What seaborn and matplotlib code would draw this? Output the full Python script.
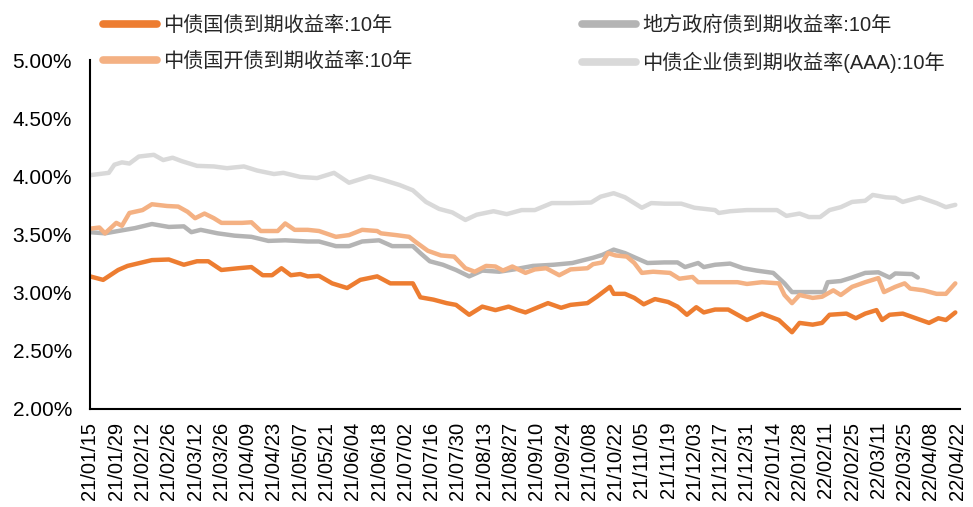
import numpy as np
import pandas as pd
import seaborn as sns
import matplotlib.pyplot as plt
import matplotlib.dates as mdates
from matplotlib.lines import Line2D
from matplotlib.ticker import FuncFormatter

# 起止日期, 数据点用"距起始日的天数"记录
start = '2021-01-15'
end = '2022-04-22'

# 中债国债到期收益率:10年
gov_days = [0, 7, 15, 20, 33, 42, 50, 57, 63, 70, 79, 86, 92, 97, 102, 107, 112, 116, 122, 129,
            137, 144, 153, 160, 172, 176, 183, 190, 195, 202, 209, 216, 223, 228, 232, 244, 251, 256,
            265, 270, 277, 279, 285, 290, 295, 301, 308, 313, 318, 323, 327, 333, 340, 345, 350, 358,
            367, 374, 378, 385, 390, 394, 403, 408, 413, 419, 422, 426, 433, 440, 447, 452, 456, 461]
gov_vals = [3.14, 3.11, 3.195, 3.23, 3.28, 3.285, 3.24, 3.27, 3.27, 3.195, 3.21, 3.22, 3.15, 3.15,
            3.21, 3.15, 3.16, 3.14, 3.145, 3.08, 3.04, 3.11, 3.14, 3.08, 3.08, 2.96, 2.94, 2.91, 2.895,
            2.81, 2.88, 2.85, 2.88, 2.85, 2.83, 2.91, 2.87, 2.895, 2.91, 2.965, 3.05, 2.99, 2.99, 2.955,
            2.90, 2.945, 2.92, 2.88, 2.81, 2.875, 2.83, 2.855, 2.855, 2.81, 2.765, 2.82, 2.765, 2.66,
            2.74, 2.725, 2.74, 2.81, 2.82, 2.78, 2.82, 2.85, 2.765, 2.81, 2.82, 2.78, 2.74, 2.78, 2.765,
            2.83]

# 地方政府债到期收益率:10年
local_days = [0, 8, 15, 24, 33, 42, 50, 54, 59, 68, 77, 86, 95, 104, 116, 122, 131, 138, 145, 154,
              161, 172, 176, 181, 188, 195, 202, 209, 218, 226, 236, 247, 257, 268, 273, 279, 285, 292,
              297, 306, 313, 317, 324, 327, 333, 341, 348, 355, 364, 370, 374, 382, 391, 393, 400, 406,
              413, 420, 426, 429, 438, 441]
local_vals = [3.52, 3.51, 3.53, 3.555, 3.59, 3.565, 3.57, 3.52, 3.54, 3.51, 3.49, 3.48, 3.445, 3.45,
              3.44, 3.44, 3.40, 3.40, 3.44, 3.45, 3.40, 3.40, 3.34, 3.27, 3.24, 3.195, 3.14, 3.19, 3.18,
              3.20, 3.23, 3.24, 3.255, 3.30, 3.325, 3.37, 3.34, 3.29, 3.255, 3.26, 3.26, 3.22, 3.255,
              3.22, 3.24, 3.25, 3.21, 3.19, 3.17, 3.08, 3.005, 3.005, 3.005, 3.09, 3.10, 3.13, 3.17,
              3.175, 3.13, 3.165, 3.16, 3.13]

# 中债国开债到期收益率:10年
cdb_days = [0, 5, 8, 14, 17, 21, 28, 33, 41, 47, 52, 56, 61, 66, 70, 81, 86, 91, 100, 104, 109, 116,
            122, 131, 138, 145, 153, 155, 163, 170, 174, 180, 187, 194, 200, 205, 211, 216, 220, 225,
            232, 237, 243, 250, 256, 265, 268, 273, 276, 280, 286, 290, 294, 300, 309, 314, 321, 324,
            345, 350, 358, 367, 370, 374, 378, 385, 390, 396, 400, 406, 413, 420, 423, 429, 434, 437,
            444, 451, 456, 461]
cdb_vals = [3.55, 3.56, 3.51, 3.60, 3.575, 3.685, 3.71, 3.76, 3.745, 3.74, 3.695, 3.64, 3.68, 3.64,
            3.60, 3.60, 3.605, 3.53, 3.53, 3.595, 3.54, 3.54, 3.53, 3.48, 3.495, 3.54, 3.53, 3.51,
            3.495, 3.48, 3.43, 3.36, 3.32, 3.31, 3.21, 3.18, 3.23, 3.225, 3.19, 3.225, 3.17, 3.20,
            3.21, 3.15, 3.20, 3.21, 3.245, 3.26, 3.34, 3.32, 3.31, 3.255, 3.17, 3.18, 3.17, 3.12,
            3.135, 3.09, 3.09, 3.075, 3.09, 3.08, 2.98, 2.91, 2.98, 2.955, 2.965, 3.02, 2.98, 3.05,
            3.09, 3.125, 3.005, 3.05, 3.08, 3.035, 3.02, 2.99, 2.99, 3.08]

# 中债企业债到期收益率(AAA):10年
corp_days = [0, 10, 13, 17, 21, 26, 34, 39, 44, 49, 57, 66, 73, 82, 89, 98, 103, 112, 121, 130, 138,
             149, 156, 165, 172, 179, 186, 193, 200, 206, 215, 222, 230, 237, 246, 256, 267, 272, 279,
             285, 290, 294, 299, 306, 315, 322, 333, 335, 341, 350, 366, 371, 378, 383, 389, 394, 400,
             406, 413, 417, 424, 429, 433, 442, 451, 456, 461]
corp_vals = [4.01, 4.03, 4.10, 4.12, 4.11, 4.17, 4.185, 4.14, 4.16, 4.13, 4.09, 4.085, 4.07, 4.085,
             4.05, 4.02, 4.03, 3.995, 3.985, 4.03, 3.945, 4.00, 3.97, 3.925, 3.88, 3.78, 3.72, 3.69,
             3.625, 3.67, 3.70, 3.675, 3.71, 3.71, 3.77, 3.77, 3.775, 3.825, 3.855, 3.82, 3.77, 3.73,
             3.77, 3.765, 3.765, 3.73, 3.71, 3.685, 3.70, 3.71, 3.71, 3.66, 3.68, 3.65, 3.65, 3.71,
             3.735, 3.78, 3.79, 3.84, 3.82, 3.815, 3.78, 3.82, 3.77, 3.735, 3.755]

names = ['中债国债到期收益率:10年', '地方政府债到期收益率:10年',
         '中债国开债到期收益率:10年', '中债企业债到期收益率(AAA):10年']
colors = ['#ED7D31', '#B4B4B4', '#F4B183', '#D9D9D9']

frames = []
for name, days, vals in zip(names, [gov_days, local_days, cdb_days, corp_days],
                            [gov_vals, local_vals, cdb_vals, corp_vals]):
    frames.append(pd.DataFrame({
        'date': pd.Timestamp(start) + pd.to_timedelta(days, unit='D'),
        'value': vals,
        'series': name,
    }))
df = pd.concat(frames, ignore_index=True)

sns.set_style('white')
plt.rcParams['font.family'] = ['Liberation Sans', 'Noto Sans CJK SC', 'DejaVu Sans']

fig = plt.figure(figsize=(9.73, 5.07), dpi=100)
ax = fig.add_axes([90 / 973, 1 - 409 / 507, 870 / 973, 349 / 507])

sns.lineplot(data=df, x='date', y='value', hue='series', hue_order=names, palette=colors,
             linewidth=3.2, estimator=None, legend=False, ax=ax)

# 横轴: 每两周一个刻度
ax.set_xlim(pd.Timestamp(start), pd.Timestamp(end) + pd.Timedelta(days=1.5))
ax.set_xticks(pd.date_range(start, end, freq='14D'))
ax.xaxis.set_major_formatter(mdates.DateFormatter('%y/%m/%d'))
for lab in ax.get_xticklabels():
    lab.set_rotation(90)
    lab.set_ha('center')

ax.set_ylim(2, 5)
ax.set_yticks(np.arange(2, 5.01, 0.5))
ax.yaxis.set_major_formatter(FuncFormatter(lambda v, p: f'{v:.2f}%'))
ax.set_xlabel('')
ax.set_ylabel('')

for s in ['top', 'right']:
    ax.spines[s].set_visible(False)
for s in ['left', 'bottom']:
    ax.spines[s].set_color('black')
    ax.spines[s].set_linewidth(1.5)

ax.tick_params(axis='both', direction='in', length=5, width=1.3, color='black',
               labelcolor='black')
ax.tick_params(axis='x', pad=9, labelsize=14.5)
ax.tick_params(axis='y', pad=13, labelsize=15)

# 图例: 两行两列
handles = [Line2D([], [], color=c, lw=5.5, solid_capstyle='round') for c in colors]
order = [0, 2, 1, 3]
ax.legend([handles[i] for i in order], [names[i] for i in order], ncol=2,
          loc='center left', bbox_to_anchor=(103 / 973, 1 - 44.5 / 507),
          bbox_transform=fig.transFigure, frameon=False, fontsize=14.5,
          handlelength=2.7, handletextpad=0.3, columnspacing=8.4,
          labelspacing=0.85, borderpad=0, borderaxespad=0)

fig.savefig('out.png', dpi=100)
